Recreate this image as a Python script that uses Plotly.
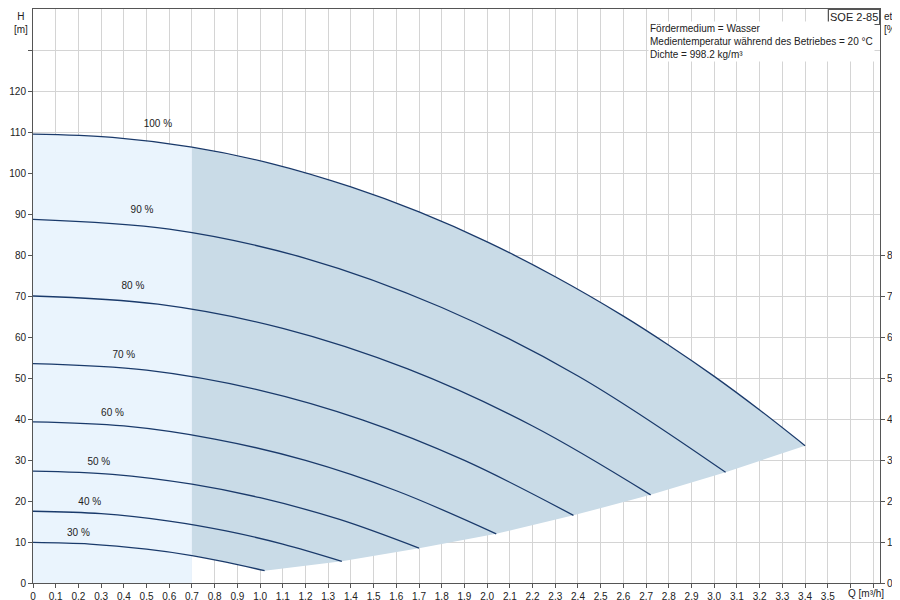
import plotly.graph_objects as go

labels = ["100 %", "90 %", "80 %", "70 %", "60 %", "50 %", "40 %", "30 %"]
curves_q = [
    [0, 0.35, 0.7, 1.05, 1.4, 1.7, 2.0, 2.3, 2.6, 2.8, 3.0, 3.2, 3.4],
    [0, 0.6, 1.2, 1.8, 2.4, 3.05],
    [0, 0.55, 1.1, 1.65, 2.2, 2.72],
    [0, 0.5, 1.0, 1.45, 1.9, 2.38],
    [0, 0.4, 0.8, 1.2, 1.6, 2.04],
    [0, 0.35, 0.7, 1.0, 1.35, 1.70],
    [0, 0.3, 0.6, 0.85, 1.1, 1.36],
    [0, 0.25, 0.5, 0.7, 0.85, 1.02],
]
curves_h = [
    [109.5, 108.7, 106.3, 102.3, 96.6, 90.5, 83.2, 74.7, 65.1, 58.0, 50.4, 42.2, 33.5],
    [88.7, 86.3, 79.2, 67.2, 50.5, 27.0],
    [70.0, 68.0, 62.1, 52.2, 38.3, 21.5],
    [53.5, 51.9, 47.0, 39.8, 29.9, 16.5],
    [39.3, 38.3, 35.1, 29.9, 22.5, 12.0],
    [27.3, 26.5, 24.1, 20.8, 15.5, 8.5],
    [17.5, 16.9, 15.1, 12.7, 9.5, 5.3],
    [9.9, 9.5, 8.25, 6.7, 5.1, 3.0],
]
label_q = [0.55, 0.48, 0.44, 0.40, 0.35, 0.29, 0.25, 0.20]
label_h = [111.8, 90.8, 72.2, 55.6, 41.4, 29.4, 19.6, 12.0]
x_ticks = [i / 10 for i in range(36)]
x_tick_text = [("%.1f" % v).replace(".", ",") if i else "0" for i, v in enumerate(x_ticks)]
y_ticks = list(range(0, 130, 10))
eta_ticks = list(range(0, 90, 10))

navy = "#1a3a6b"
fig = go.Figure()

q100, h100 = curves_q[0], curves_h[0]
fig.add_trace(go.Scatter(x=[0] + q100[:3] + [q100[2], 0], y=[0] + h100[:3] + [0, 0],
                         fill="toself", fillcolor="#eaf4fd", line=dict(width=0),
                         mode="lines", hoverinfo="skip", showlegend=False))
end_q = [c[-1] for c in curves_q]
end_h = [c[-1] for c in curves_h]
px = q100[2:] + end_q[1:] + curves_q[-1][-2:-4:-1] + [q100[2]]
py = h100[2:] + end_h[1:] + curves_h[-1][-2:-4:-1] + [h100[2]]
fig.add_trace(go.Scatter(x=px, y=py, fill="toself", fillcolor="#c9dbe7",
                         line=dict(width=0), mode="lines", hoverinfo="skip", showlegend=False))

for q, h in zip(curves_q, curves_h):
    fig.add_trace(go.Scatter(x=q, y=h, mode="lines", line=dict(color=navy, width=1.3, shape="spline"),
                             showlegend=False))
fig.add_trace(go.Scatter(x=label_q, y=label_h, mode="text", text=labels,
                         textfont=dict(size=10, color="#222", family="Arial"), showlegend=False))
fig.add_trace(go.Scatter(x=[0], y=[0], yaxis="y2", mode="markers", marker=dict(opacity=0),
                         showlegend=False, hoverinfo="skip"))

ax = dict(showline=True, linecolor="#555", mirror=True, gridcolor="#d4d4d4", automargin=False,
          ticks="outside", ticklen=4, tickcolor="#555", zeroline=False,
          tickfont=dict(size=10, family="Arial", color="#222"))
fig.update_layout(
    width=900, height=600, plot_bgcolor="white", paper_bgcolor="white",
    margin=dict(l=25, r=28, t=1, b=25),
    xaxis=dict(range=[0, 3.73], tickvals=x_ticks + [3.6, 3.7], ticktext=x_tick_text + ["", ""], **ax),
    yaxis=dict(range=[0, 140], tickvals=y_ticks + [130], ticktext=[str(v) for v in y_ticks] + [""], **ax),
    yaxis2=dict(range=[0, 140], overlaying="y", side="right", tickvals=eta_ticks, automargin=False,
                showgrid=False, showline=False, ticks="outside", ticklen=4, tickcolor="#555",
                tickfont=dict(size=10, family="Arial", color="#222")),
)
fig.add_annotation(x=3.58, y=0, yref="y", text="Q [m³/h]", showarrow=False, yshift=-10,
                   xanchor="left", font=dict(size=10, family="Arial", color="#222"))
fig.add_annotation(x=0, y=1, xref="paper", yref="paper", text="H<br>[m]", showarrow=False,
                   xanchor="right", yanchor="top", xshift=-3, align="center",
                   font=dict(size=10, family="Arial", color="#222"))
fig.add_annotation(x=1, y=1, xref="paper", yref="paper", text="eta<br>[%]", showarrow=False,
                   xanchor="left", yanchor="top", xshift=2, align="left",
                   font=dict(size=10, family="Arial", color="#222"))
fig.add_annotation(x=1, y=1, xref="paper", yref="paper", text="SQE 2-85", showarrow=False,
                   xanchor="right", yanchor="top", bordercolor="#555", borderwidth=1, bgcolor="white",
                   font=dict(size=11, family="Arial", color="#222"))
fig.add_annotation(x=2.71, y=137, text="Fördermedium = Wasser<br>Medientemperatur während des Betriebes = 20 °C<br>Dichte = 998.2 kg/m³",
                   showarrow=False, xanchor="left", yanchor="top", align="left", bgcolor="white",
                   font=dict(size=10, family="Arial", color="#222"))
fig.write_html("out.html")
